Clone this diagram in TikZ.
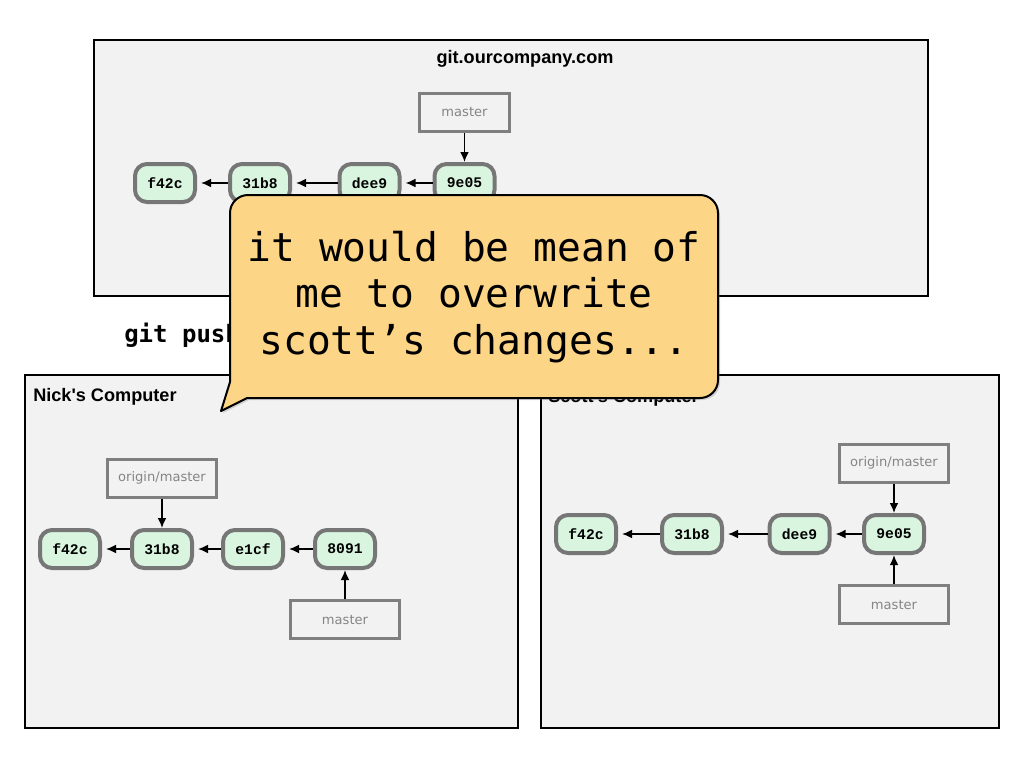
\documentclass[tikz,border=0pt]{standalone}
\usepackage{fontspec}
\setmainfont{Liberation Sans}
\newfontfamily\commitfont{Liberation Mono}
\newfontfamily\branchfont{DejaVu Sans}
\newfontfamily\bubblefont{DejaVu Sans Mono}
\usetikzlibrary{
    positioning,
    shadows,
    arrows,
    arrows.meta
}
\definecolor{boxfill}{HTML}{F2F2F2}
\definecolor{commitfill}{HTML}{D9F5DF}
\definecolor{commitline}{HTML}{767676}
\definecolor{branchline}{HTML}{7F7F7F}
\definecolor{branchtext}{HTML}{858585}
\definecolor{bubblefill}{HTML}{FDD586}
\tikzset{
  machine/.style = {
      draw=black,
      line width=1.5pt,
      fill=boxfill
  },
  title/.style = {
      font=\fontsize{13.6}{16}\selectfont\bfseries,
      anchor=base west,
      inner sep=0pt
  },
  commit/.style = {
      draw=commitline,
      line width=3pt,
      fill=commitfill,
      rounded corners=9pt,
      minimum width=45pt,
      minimum height=28.5pt,
      inner sep=0pt,
      font=\fontsize{11}{13}\commitfont\bfseries
  },
  branch/.style = {
      draw=branchline,
      line width=2.25pt,
      fill=boxfill,
      minimum width=82pt,
      minimum height=28.5pt,
      text=branchtext,
      font=\fontsize{9.8}{11}\branchfont
  },
  parent/.style = {
      -{Latex[length=7.5pt,width=6.5pt]},
      line width=1.1pt,
      shorten >=3pt
  },
  pointer/.style = {
      -{Latex[length=7.5pt,width=6.5pt]},
      line width=1.1pt
  },
  bubble/.style = {
      draw=black,
      line width=1.5pt,
      line join=round,
      fill=bubblefill,
      drop shadow={opacity=0.3, shadow xshift=1.5pt, shadow yshift=-1.5pt}
  },
  saying/.style = {
      align=center,
      font=\fontsize{29.7}{34.9}\bubblefont
  }
}
\begin{document}
\begin{tikzpicture}[x=0.75pt, y=-0.75pt, node distance=53pt]
        \useasboundingbox (0,0) rectangle (1024,768);
        % Server
        \draw[machine] (94,40) rectangle (928,296);
        \node[title, anchor=base] (server) at (525,63) {git.ourcompany.com};
        \node[commit] (s-f42c) at (165,183) {f42c};
        \node[commit] (s-31b8) at (260,183) {31b8};
        \node[commit] (s-dee9) at (369.5,183) {dee9};
        \node[commit] (s-9e05) at (464.5,183) {9e05};
        \node[branch, minimum width=67pt, above of=s-9e05] (s-master) {master};
        \foreach \a/\b in {31b8/f42c, dee9/31b8, 9e05/dee9}
            \draw[parent] (s-\a) -- (s-\b);
        \draw[pointer] (s-master) -- (s-9e05);
        % Nick
        \draw[machine] (25,375) rectangle (518,728);
        \node[title] (nick) at (33,401) {Nick\textquotesingle s Computer};
        \node[commit] (n-f42c) at (70,549) {f42c};
        \node[commit] (n-31b8) at (162,549) {31b8};
        \node[commit] (n-e1cf) at (253,549) {e1cf};
        \node[commit] (n-8091) at (345,549) {8091};
        \node[branch, above of=n-31b8] (n-origin) {origin/master};
        \node[branch, below of=n-8091] (n-master) {master};
        \foreach \a/\b in {31b8/f42c, e1cf/31b8, 8091/e1cf}
            \draw[parent] (n-\a) -- (n-\b);
        \draw[pointer] (n-origin) -- (n-31b8);
        \draw[pointer] (n-master) -- (n-8091);
        % Scott
        \draw[machine] (541,375) rectangle (999,728);
        \node[title] (scott) at (548,402) {Scott\textquotesingle s Computer};
        \node[commit] (c-f42c) at (586,534) {f42c};
        \node[commit] (c-31b8) at (692,534) {31b8};
        \node[commit] (c-dee9) at (799.5,534) {dee9};
        \node[commit] (c-9e05) at (894,534) {9e05};
        \node[branch, above of=c-9e05] (c-origin) {origin/master};
        \node[branch, below of=c-9e05] (c-master) {master};
        \foreach \a/\b in {31b8/f42c, dee9/31b8, 9e05/dee9}
            \draw[parent] (c-\a) -- (c-\b);
        \draw[pointer] (c-origin) -- (c-9e05);
        \draw[pointer] (c-master) -- (c-9e05);
        % Command
        \node[anchor=base west, inner sep=0pt, font=\fontsize{18}{20}\bubblefont\bfseries] (push) at (124,342) {git push};
        % Speech bubble
        \draw[bubble] (230,382) -- (221,411) -- (247,398) -- (700,398)
            arc[start angle=90, end angle=0, radius=18] -- (718,213)
            arc[start angle=0, end angle=-90, radius=18] -- (248,195)
            arc[start angle=270, end angle=180, radius=18] -- cycle;
        \node[saying] (quote) at (474,297) {it would be mean of\\me to overwrite\\scott’s changes...};
\end{tikzpicture}
\end{document}
